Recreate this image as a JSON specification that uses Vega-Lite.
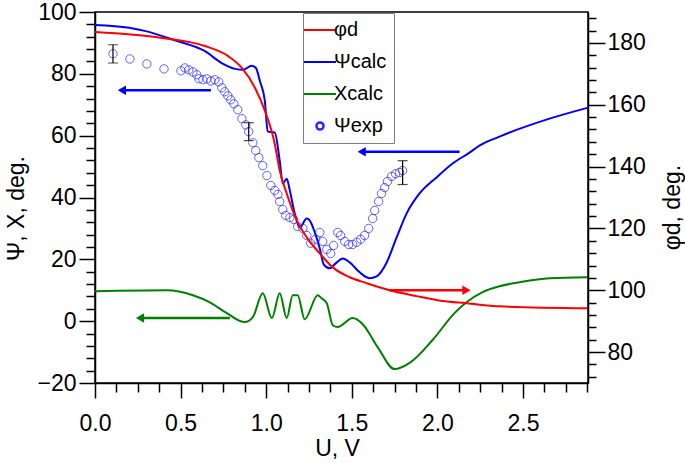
{
  "$schema": "https://vega.github.io/schema/vega-lite/v6.json",
  "width": 493,
  "height": 371,
  "autosize": {"type": "none"},
  "padding": {"left": 95, "top": 12, "right": 97, "bottom": 80},
  "background": "white",
  "config": {
    "font": "Liberation Sans",
    "view": {"stroke": "black", "strokeWidth": 1.5},
    "axis": {
      "domainColor": "black", "domainWidth": 1.5, "tickColor": "black", "tickWidth": 1.5,
      "labelColor": "black", "titleColor": "black", "labelFont": "Liberation Sans", "titleFont": "Liberation Sans",
      "labelFontSize": 23, "titleFontSize": 23, "titleFontWeight": "normal", "grid": false,
      "labelOverlap": false, "labelBound": false
    }
  },
  "datasets": {
    "curves": [
      {"series": "Ψcalc", "U": 0, "value": 95.8},
      {"series": "Ψcalc", "U": 0.2, "value": 94.9},
      {"series": "Ψcalc", "U": 0.29, "value": 93.9},
      {"series": "Ψcalc", "U": 0.48, "value": 90.6},
      {"series": "Ψcalc", "U": 0.64, "value": 87.4},
      {"series": "Ψcalc", "U": 0.74, "value": 83.5},
      {"series": "Ψcalc", "U": 0.82, "value": 81.6},
      {"series": "Ψcalc", "U": 0.865, "value": 81.3},
      {"series": "Ψcalc", "U": 0.915, "value": 82.6},
      {"series": "Ψcalc", "U": 0.94, "value": 81.9},
      {"series": "Ψcalc", "U": 0.963, "value": 77.7},
      {"series": "Ψcalc", "U": 0.992, "value": 71.3},
      {"series": "Ψcalc", "U": 1.009, "value": 61.3},
      {"series": "Ψcalc", "U": 1.05, "value": 61.0},
      {"series": "Ψcalc", "U": 1.079, "value": 51.9},
      {"series": "Ψcalc", "U": 1.097, "value": 44.5},
      {"series": "Ψcalc", "U": 1.12, "value": 46.1},
      {"series": "Ψcalc", "U": 1.138, "value": 42.3},
      {"series": "Ψcalc", "U": 1.167, "value": 34.8},
      {"series": "Ψcalc", "U": 1.196, "value": 30.3},
      {"series": "Ψcalc", "U": 1.237, "value": 33.2},
      {"series": "Ψcalc", "U": 1.254, "value": 32.6},
      {"series": "Ψcalc", "U": 1.284, "value": 28.7},
      {"series": "Ψcalc", "U": 1.313, "value": 23.5},
      {"series": "Ψcalc", "U": 1.336, "value": 18.4},
      {"series": "Ψcalc", "U": 1.371, "value": 17.1},
      {"series": "Ψcalc", "U": 1.406, "value": 18.7},
      {"series": "Ψcalc", "U": 1.447, "value": 20.3},
      {"series": "Ψcalc", "U": 1.488, "value": 19.0},
      {"series": "Ψcalc", "U": 1.546, "value": 15.8},
      {"series": "Ψcalc", "U": 1.604, "value": 13.9},
      {"series": "Ψcalc", "U": 1.645, "value": 14.5},
      {"series": "Ψcalc", "U": 1.704, "value": 19.0},
      {"series": "Ψcalc", "U": 1.762, "value": 27.1},
      {"series": "Ψcalc", "U": 1.82, "value": 34.8},
      {"series": "Ψcalc", "U": 1.896, "value": 41.3},
      {"series": "Ψcalc", "U": 1.995, "value": 46.5},
      {"series": "Ψcalc", "U": 2.089, "value": 51.0},
      {"series": "Ψcalc", "U": 2.188, "value": 54.5},
      {"series": "Ψcalc", "U": 2.246, "value": 56.8},
      {"series": "Ψcalc", "U": 2.363, "value": 59.7},
      {"series": "Ψcalc", "U": 2.655, "value": 65.5},
      {"series": "Ψcalc", "U": 2.876, "value": 69.0},
      {"series": "Χcalc", "U": 0, "value": 9.7},
      {"series": "Χcalc", "U": 0.42, "value": 10.0},
      {"series": "Χcalc", "U": 0.572, "value": 8.4},
      {"series": "Χcalc", "U": 0.671, "value": 6.1},
      {"series": "Χcalc", "U": 0.77, "value": 2.6},
      {"series": "Χcalc", "U": 0.875, "value": -0.3},
      {"series": "Χcalc", "U": 0.922, "value": 1.3},
      {"series": "Χcalc", "U": 0.98, "value": 9.0},
      {"series": "Χcalc", "U": 1.033, "value": 1.0},
      {"series": "Χcalc", "U": 1.079, "value": 9.0},
      {"series": "Χcalc", "U": 1.12, "value": 1.0},
      {"series": "Χcalc", "U": 1.155, "value": 8.4},
      {"series": "Χcalc", "U": 1.184, "value": 8.4},
      {"series": "Χcalc", "U": 1.225, "value": 0.6},
      {"series": "Χcalc", "U": 1.301, "value": 8.4},
      {"series": "Χcalc", "U": 1.324, "value": 7.4},
      {"series": "Χcalc", "U": 1.354, "value": 5.8},
      {"series": "Χcalc", "U": 1.389, "value": -1.3},
      {"series": "Χcalc", "U": 1.418, "value": -1.9},
      {"series": "Χcalc", "U": 1.505, "value": 1.0},
      {"series": "Χcalc", "U": 1.564, "value": -1.0},
      {"series": "Χcalc", "U": 1.651, "value": -8.4},
      {"series": "Χcalc", "U": 1.75, "value": -15.5},
      {"series": "Χcalc", "U": 1.838, "value": -13.5},
      {"series": "Χcalc", "U": 1.972, "value": -6.1},
      {"series": "Χcalc", "U": 2.1, "value": 2.6},
      {"series": "Χcalc", "U": 2.17, "value": 6.1},
      {"series": "Χcalc", "U": 2.264, "value": 9.4},
      {"series": "Χcalc", "U": 2.363, "value": 11.3},
      {"series": "Χcalc", "U": 2.48, "value": 12.6},
      {"series": "Χcalc", "U": 2.655, "value": 13.9},
      {"series": "Χcalc", "U": 2.876, "value": 14.2},
      {"series": "φd", "U": 0, "value": 183.5},
      {"series": "φd", "U": 0.39, "value": 181.6},
      {"series": "φd", "U": 0.642, "value": 179.0},
      {"series": "φd", "U": 0.776, "value": 175.8},
      {"series": "φd", "U": 0.858, "value": 171.9},
      {"series": "φd", "U": 0.934, "value": 165.5},
      {"series": "φd", "U": 0.992, "value": 158.1},
      {"series": "φd", "U": 1.05, "value": 147.4},
      {"series": "φd", "U": 1.079, "value": 138.7},
      {"series": "φd", "U": 1.12, "value": 131.3},
      {"series": "φd", "U": 1.179, "value": 122.6},
      {"series": "φd", "U": 1.237, "value": 117.1},
      {"series": "φd", "U": 1.313, "value": 111.9},
      {"series": "φd", "U": 1.389, "value": 107.4},
      {"series": "φd", "U": 1.488, "value": 104.2},
      {"series": "φd", "U": 1.587, "value": 102.3},
      {"series": "φd", "U": 1.721, "value": 100.0},
      {"series": "φd", "U": 1.879, "value": 98.1},
      {"series": "φd", "U": 2.03, "value": 96.5},
      {"series": "φd", "U": 2.17, "value": 95.8},
      {"series": "φd", "U": 2.363, "value": 94.8},
      {"series": "φd", "U": 2.876, "value": 94.2},
      {"series": "Ψexp", "U": 0.105, "value": 86.5},
      {"series": "Ψexp", "U": 0.204, "value": 84.8},
      {"series": "Ψexp", "U": 0.303, "value": 83.2},
      {"series": "Ψexp", "U": 0.403, "value": 81.6},
      {"series": "Ψexp", "U": 0.502, "value": 81.0},
      {"series": "Ψexp", "U": 0.525, "value": 81.9},
      {"series": "Ψexp", "U": 0.548, "value": 81.3},
      {"series": "Ψexp", "U": 0.572, "value": 80.6},
      {"series": "Ψexp", "U": 0.595, "value": 79.7},
      {"series": "Ψexp", "U": 0.607, "value": 78.4},
      {"series": "Ψexp", "U": 0.63, "value": 78.1},
      {"series": "Ψexp", "U": 0.654, "value": 78.4},
      {"series": "Ψexp", "U": 0.677, "value": 77.7},
      {"series": "Ψexp", "U": 0.7, "value": 78.1},
      {"series": "Ψexp", "U": 0.723, "value": 77.4},
      {"series": "Ψexp", "U": 0.741, "value": 75.5},
      {"series": "Ψexp", "U": 0.758, "value": 74.2},
      {"series": "Ψexp", "U": 0.776, "value": 72.9},
      {"series": "Ψexp", "U": 0.793, "value": 71.6},
      {"series": "Ψexp", "U": 0.811, "value": 70.3},
      {"series": "Ψexp", "U": 0.834, "value": 68.4},
      {"series": "Ψexp", "U": 0.858, "value": 65.5},
      {"series": "Ψexp", "U": 0.881, "value": 63.5},
      {"series": "Ψexp", "U": 0.898, "value": 61.3},
      {"series": "Ψexp", "U": 0.922, "value": 57.7},
      {"series": "Ψexp", "U": 0.939, "value": 55.2},
      {"series": "Ψexp", "U": 0.957, "value": 52.9},
      {"series": "Ψexp", "U": 0.98, "value": 50.3},
      {"series": "Ψexp", "U": 1.004, "value": 47.1},
      {"series": "Ψexp", "U": 1.027, "value": 43.9},
      {"series": "Ψexp", "U": 1.05, "value": 42.3},
      {"series": "Ψexp", "U": 1.068, "value": 41.0},
      {"series": "Ψexp", "U": 1.079, "value": 38.7},
      {"series": "Ψexp", "U": 1.097, "value": 36.1},
      {"series": "Ψexp", "U": 1.114, "value": 34.2},
      {"series": "Ψexp", "U": 1.138, "value": 33.5},
      {"series": "Ψexp", "U": 1.161, "value": 32.9},
      {"series": "Ψexp", "U": 1.184, "value": 30.6},
      {"series": "Ψexp", "U": 1.214, "value": 30.0},
      {"series": "Ψexp", "U": 1.237, "value": 27.7},
      {"series": "Ψexp", "U": 1.26, "value": 25.2},
      {"series": "Ψexp", "U": 1.289, "value": 26.5},
      {"series": "Ψexp", "U": 1.313, "value": 28.7},
      {"series": "Ψexp", "U": 1.33, "value": 25.8},
      {"series": "Ψexp", "U": 1.354, "value": 23.2},
      {"series": "Ψexp", "U": 1.377, "value": 21.9},
      {"series": "Ψexp", "U": 1.394, "value": 24.5},
      {"series": "Ψexp", "U": 1.418, "value": 28.7},
      {"series": "Ψexp", "U": 1.435, "value": 27.7},
      {"series": "Ψexp", "U": 1.459, "value": 25.8},
      {"series": "Ψexp", "U": 1.482, "value": 24.8},
      {"series": "Ψexp", "U": 1.505, "value": 24.8},
      {"series": "Ψexp", "U": 1.529, "value": 25.5},
      {"series": "Ψexp", "U": 1.552, "value": 26.5},
      {"series": "Ψexp", "U": 1.575, "value": 27.7},
      {"series": "Ψexp", "U": 1.599, "value": 30.0},
      {"series": "Ψexp", "U": 1.622, "value": 33.2},
      {"series": "Ψexp", "U": 1.634, "value": 35.8},
      {"series": "Ψexp", "U": 1.657, "value": 38.7},
      {"series": "Ψexp", "U": 1.674, "value": 41.3},
      {"series": "Ψexp", "U": 1.692, "value": 43.2},
      {"series": "Ψexp", "U": 1.709, "value": 45.2},
      {"series": "Ψexp", "U": 1.733, "value": 46.8},
      {"series": "Ψexp", "U": 1.756, "value": 47.7},
      {"series": "Ψexp", "U": 1.779, "value": 48.1},
      {"series": "Ψexp", "U": 1.797, "value": 48.7}
    ],
    "errs": [
      {"bar": 1, "U": 0.105, "value": 83.5},
      {"bar": 1, "U": 0.105, "value": 89.4},
      {"bar": 2, "U": 0.898, "value": 58.4},
      {"bar": 2, "U": 0.898, "value": 64.2},
      {"bar": 3, "U": 1.797, "value": 44.2},
      {"bar": 3, "U": 1.797, "value": 51.9}
    ],
    "arrows": [
      {"series": "Ψcalc", "U": 0.157, "U2": 0.677, "value": 74.7, "dir": "left"},
      {"series": "Ψcalc", "U": 1.558, "U2": 2.13, "value": 54.8, "dir": "left"},
      {"series": "φd", "U": 2.17, "U2": 1.72, "value": 10.0, "dir": "right"},
      {"series": "Χcalc", "U": 0.263, "U2": 0.788, "value": 1.0, "dir": "left"}
    ]
  },
  "encoding": {
    "x": {
      "field": "U", "type": "quantitative", "title": "U, V",
      "scale": {"domain": [0, 2.88], "nice": false, "zero": false},
      "axis": {
        "values": [0, 0.125, 0.25, 0.375, 0.5, 0.625, 0.75, 0.875, 1, 1.125, 1.25, 1.375, 1.5, 1.625, 1.75, 1.875, 2, 2.125, 2.25, 2.375, 2.5, 2.625, 2.75, 2.875],
        "labelExpr": "datum.value % 0.5 === 0 ? format(datum.value, '.1f') : ''",
        "tickSize": {"condition": {"test": "datum.value % 0.5 === 0", "value": 15}, "value": 9},
        "labelPadding": 14,
        "labelOverlap": false,
        "labelFlush": false,
        "titleX": 242, "titleY": 72, "titleBaseline": "alphabetic", "titleAlign": "center"
      }
    }
  },
  "layer": [
    {
      "encoding": {
        "y": {
          "field": "value", "type": "quantitative", "title": "Ψ, Χ, deg.",
          "scale": {"domain": [-20, 100], "nice": false, "zero": false},
          "axis": {
            "values": [-20, -16, -12, -8, -4, 0, 4, 8, 12, 16, 20, 24, 28, 32, 36, 40, 44, 48, 52, 56, 60, 64, 68, 72, 76, 80, 84, 88, 92, 96, 100],
            "labelExpr": "datum.value % 20 !== 0 ? '' : (datum.value < 0 ? '−' + (-datum.value) : '' + datum.value)",
            "tickSize": {"condition": {"test": "datum.value % 20 === 0", "value": 16}, "value": 9},
            "labelPadding": 3,
            "labelOverlap": false,
            "labelFlush": false,
            "titleAngle": -90, "titleX": -72, "titleY": 196, "titleBaseline": "alphabetic", "titleAlign": "center"
          }
        }
      },
      "layer": [
        {
          "data": {"name": "curves"},
          "transform": [{"filter": "datum.series === 'Ψcalc' || datum.series === 'Χcalc'"}],
          "mark": {"type": "line", "strokeWidth": 2, "interpolate": "monotone"},
          "encoding": {
            "color": {
              "field": "series", "type": "nominal",
              "scale": {"domain": ["φd", "Ψcalc", "Χcalc", "Ψexp"], "range": ["#ff0000", "#0000ff", "#008000", "#2a2aff"]},
              "legend": {
                "title": null, "orient": "none", "legendX": 208, "legendY": 1,
                "symbolType": "stroke", "symbolSize": 1024, "symbolStrokeWidth": 2, "symbolFillColor": "white",
                "labelFontSize": 20, "labelFont": "Liberation Sans", "labelColor": "black",
                "labelOffset": 4, "rowPadding": 12, "padding": 7,
                "strokeColor": "#7f7f7f", "fillColor": "white",
                "encode": {
                  "symbols": {
                    "update": {
                      "shape": {"signal": "datum.value === 'Ψexp' ? 'circle' : 'stroke'"},
                      "size": {"signal": "datum.value === 'Ψexp' ? 50 : 1024"},
                      "strokeWidth": {"signal": "datum.value === 'Ψexp' ? 2.5 : 2"},
                      "fill": {"value": "white"},
                      "fillOpacity": {"value": 0},
                      "opacity": {"value": 1}
                    }
                  }
                }
              }
            }
          }
        },
        {
          "data": {"name": "curves"},
          "transform": [{"filter": "datum.series === 'Ψexp'"}],
          "mark": {"type": "point", "filled": false, "size": 70, "strokeWidth": 1, "opacity": 0.75},
          "encoding": {
            "color": {"field": "series", "type": "nominal"}
          }
        },
        {
          "data": {"name": "errs"},
          "mark": {"type": "line", "color": "black", "strokeWidth": 1.2},
          "encoding": {
            "detail": {"field": "bar", "type": "nominal"}
          }
        },
        {
          "data": {"name": "errs"},
          "mark": {"type": "tick", "orient": "horizontal", "color": "black", "size": 10, "thickness": 1.2},
          "encoding": {}
        },
        {
          "data": {"name": "arrows"},
          "mark": {"type": "rule", "strokeWidth": 2.5},
          "encoding": {
            "x2": {"field": "U2"},
            "color": {"field": "series", "type": "nominal"}
          }
        },
        {
          "data": {"name": "arrows"},
          "mark": {"type": "point", "filled": true, "size": 90, "opacity": 1},
          "encoding": {
            "shape": {"field": "dir", "type": "nominal", "scale": {"domain": ["left", "right"], "range": ["triangle-left", "triangle-right"]}, "legend": null},
            "color": {"field": "series", "type": "nominal"}
          }
        }
      ]
    },
    {
      "data": {"name": "curves"},
      "transform": [{"filter": "datum.series === 'φd'"}],
      "mark": {"type": "line", "strokeWidth": 2, "interpolate": "monotone"},
      "encoding": {
        "y": {
          "field": "value", "type": "quantitative", "title": "φd, deg.",
          "scale": {"domain": [70, 190], "nice": false, "zero": false},
          "axis": {
            "orient": "right",
            "values": [72, 76, 80, 84, 88, 92, 96, 100, 104, 108, 112, 116, 120, 124, 128, 132, 136, 140, 144, 148, 152, 156, 160, 164, 168, 172, 176, 180, 184, 188],
            "labelExpr": "datum.value % 20 === 0 ? '' + datum.value : ''",
            "tickSize": {"condition": {"test": "datum.value % 20 === 0", "value": 17}, "value": 8},
            "labelPadding": 2,
            "labelOverlap": false,
            "labelFlush": false,
            "titleAngle": -90, "titleX": 91, "titleY": 195, "titleBaseline": "alphabetic", "titleAlign": "center"
          }
        },
        "color": {"field": "series", "type": "nominal"}
      }
    }
  ],
  "resolve": {"scale": {"y": "independent"}}
}
